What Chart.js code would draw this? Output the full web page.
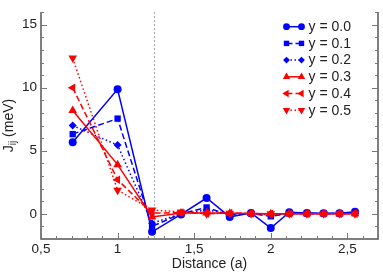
<!DOCTYPE html>
<html>
<head>
<meta charset="utf-8">
<script src="https://cdn.jsdelivr.net/npm/chart.js@4"></script>
<style>html,body{margin:0;padding:0;background:#fff}canvas{display:block}</style>
</head>
<body>
<canvas id="c" width="383" height="273"></canvas>
<script>
// ---- data ----
const distances = [0.707, 1, 1.225, 1.414, 1.581, 1.732, 1.871, 2, 2.121, 2.236, 2.345, 2.449, 2.55];
const seriesLabels = ['y = 0.0', 'y = 0.1', 'y = 0.2', 'y = 0.3', 'y = 0.4', 'y = 0.5'];
const y00 = [5.67, 9.87, -1.43, -0.05, 1.25, -0.25, 0.07, -1.13, 0.12, 0.07, 0.05, 0.05, 0.17];
const y01 = [6.32, 7.55, -1.0, 0.0, 0.5, -0.1, 0.02, -0.2, 0.02, 0.02, 0.02, 0.02, 0.05];
const y02 = [7.0, 5.45, -0.75, 0.0, 0.3, 0.0, 0.02, -0.1, 0.02, 0.02, 0.02, 0.02, 0.02];
const y03 = [8.2, 3.9, -0.25, 0.07, 0.07, 0.05, 0.03, 0.0, 0.0, 0.0, 0.0, 0.0, 0.0];
const y04 = [10.0, 2.7, 0.05, 0.1, 0.02, 0.05, 0.02, 0.0, 0.0, 0.0, 0.0, 0.0, 0.0];
const y05 = [12.35, 1.87, 0.3, 0.15, 0.0, 0.05, 0.02, 0.0, 0.0, 0.0, 0.0, 0.0, 0.0];
const xTickValues = [0.5, 1, 1.5, 2, 2.5];
const yTickValues = [0, 5, 10, 15];
const cutoffDistance = 1.24;
const xTitle = 'Distance (a)';
const yTitleMain = 'J';
const yTitleSub = 'ij';
const yTitleRest = ' (meV)';

const BLUE = '#0000ff', RED = '#ff0000';
const FONT = '"Liberation Sans", Arial, sans-serif';
const styles = [
  {color: BLUE, point: 'circle', rot: 0, dash: [], r: 4},
  {color: BLUE, point: 'rect', rot: 0, dash: [6, 3], r: 4.5},
  {color: BLUE, point: 'rectRot', rot: 0, dash: [1.5, 2.5], r: 4},
  {color: RED, point: 'triangle', rot: 0, dash: [], r: 5},
  {color: RED, point: 'triangle', rot: -90, dash: [6, 3], r: 5},
  {color: RED, point: 'triangle', rot: 180, dash: [1.5, 2.5], r: 5}
];
const allSeries = [y00, y01, y02, y03, y04, y05];

const datasets = allSeries.map((vals, i) => ({
  label: seriesLabels[i],
  data: vals.map((v, k) => ({x: distances[k], y: v})),
  borderColor: styles[i].color,
  backgroundColor: styles[i].color,
  borderWidth: 1.5,
  borderDash: styles[i].dash,
  pointStyle: styles[i].point,
  pointRotation: styles[i].rot,
  pointRadius: styles[i].r,
  pointBorderWidth: 0,
  tension: 0,
  order: 10 - i
}));

const decor = {
  id: 'decor',
  beforeDatasetsDraw(chart) {
    const {ctx, chartArea: a, scales: {x}} = chart;
    const px = Math.round(x.getPixelForValue(cutoffDistance)) + 0.5;
    ctx.save();
    ctx.strokeStyle = '#aaa';
    ctx.lineWidth = 1.2;
    ctx.setLineDash([2, 2]);
    ctx.beginPath(); ctx.moveTo(px, a.top); ctx.lineTo(px, a.bottom); ctx.stroke();
    ctx.restore();
  },
  afterDraw(chart) {
    const {ctx, chartArea: a, scales: {x, y}} = chart;
    ctx.save();
    ctx.strokeStyle = '#555';
    ctx.lineWidth = 1.5;
    ctx.beginPath();
    ctx.moveTo(a.left, a.top); ctx.lineTo(a.left, a.bottom); ctx.lineTo(a.right, a.bottom); ctx.lineTo(a.right, a.top);
    ctx.stroke();
    ctx.strokeStyle = '#777';
    ctx.lineWidth = 1;
    ctx.beginPath();
    for (let v = 5; v <= 27; v++) {
      const p = Math.round(x.getPixelForValue(v / 10)) + 0.5;
      const len = (v % 5 === 0) ? 6 : 3;
      ctx.moveTo(p, a.bottom); ctx.lineTo(p, a.bottom - len);
    }
    for (let v = -2; v <= 16; v++) {
      const p = Math.round(y.getPixelForValue(v)) + 0.5;
      const len = (v % 5 === 0) ? 6 : 3;
      ctx.moveTo(a.left, p); ctx.lineTo(a.left + len, p);
      ctx.moveTo(a.right, p); ctx.lineTo(a.right - len, p);
    }
    ctx.stroke();
    ctx.fillStyle = '#222';
    ctx.font = '14px ' + FONT;
    ctx.textAlign = 'center';
    ctx.textBaseline = 'middle';
    ctx.fillText(xTitle, (a.left + a.right) / 2, 264);
    ctx.translate(8, (a.top + a.bottom) / 2);
    ctx.rotate(-Math.PI / 2);
    ctx.textAlign = 'left';
    ctx.textBaseline = 'alphabetic';
    const fMain = '14px ' + FONT, fSub = '10px ' + FONT;
    ctx.font = fMain; const wJ = ctx.measureText(yTitleMain).width; const wR = ctx.measureText(yTitleRest).width;
    ctx.font = fSub; const wS = ctx.measureText(yTitleSub).width;
    let sx = -(wJ + wS + wR) / 2;
    const base = 4.5;
    ctx.font = fMain; ctx.fillText(yTitleMain, sx, base); sx += wJ;
    ctx.font = fSub; ctx.fillText(yTitleSub, sx, base + 3); sx += wS;
    ctx.font = fMain; ctx.fillText(yTitleRest, sx, base);
    ctx.restore();
    ctx.save();
    chart.data.datasets.forEach((ds, i) => {
      const cy = 26.7 + i * 16.7;
      const x0 = 286.5, x1 = 301.5;
      ctx.strokeStyle = ds.borderColor;
      ctx.lineWidth = 1.5;
      ctx.setLineDash(ds.borderDash);
      ctx.beginPath(); ctx.moveTo(x0, cy); ctx.lineTo(x1, cy); ctx.stroke();
      ctx.setLineDash([]);
      ctx.fillStyle = ds.backgroundColor;
      const opts = {pointStyle: ds.pointStyle, rotation: ds.pointRotation, radius: ds.pointRadius * 0.85, borderWidth: 0};
      Chart.helpers.drawPoint(ctx, opts, x0, cy);
      Chart.helpers.drawPoint(ctx, opts, x1, cy);
      ctx.fillStyle = '#222';
      ctx.font = '14px ' + FONT;
      ctx.textAlign = 'left';
      ctx.textBaseline = 'middle';
      ctx.fillText(ds.label, 308.5, cy + 0.5);
    });
    ctx.restore();
  }
};

new Chart(document.getElementById('c'), {
  type: 'line',
  data: {datasets},
  plugins: [decor],
  options: {
    responsive: false,
    animation: false,
    devicePixelRatio: 1,
    layout: {padding: {top: 0, right: 1, left: 0, bottom: 0}},
    plugins: {legend: {display: false}, tooltip: {enabled: false}},
    scales: {
      x: {
        type: 'linear', min: 0.5, max: 2.7,
        grid: {display: false, drawTicks: false},
        border: {display: false},
        afterFit(s) { s.height = 34; },
        afterBuildTicks(s) { s.ticks = xTickValues.map(v => ({value: v})); },
        ticks: {
          padding: 2, color: '#222', font: {family: FONT, size: 13.5},
          maxRotation: 0, autoSkip: false,
          callback: v => String(v).replace('.', ',')
        }
      },
      y: {
        type: 'linear', min: -2, max: 16,
        grid: {display: false, drawTicks: false},
        border: {display: false},
        afterFit(s) { s.width = 41; },
        afterBuildTicks(s) { s.ticks = yTickValues.map(v => ({value: v})); },
        ticks: {padding: 4, color: '#222', font: {family: FONT, size: 13.5}, autoSkip: false}
      }
    }
  }
});
</script>
</body>
</html>
